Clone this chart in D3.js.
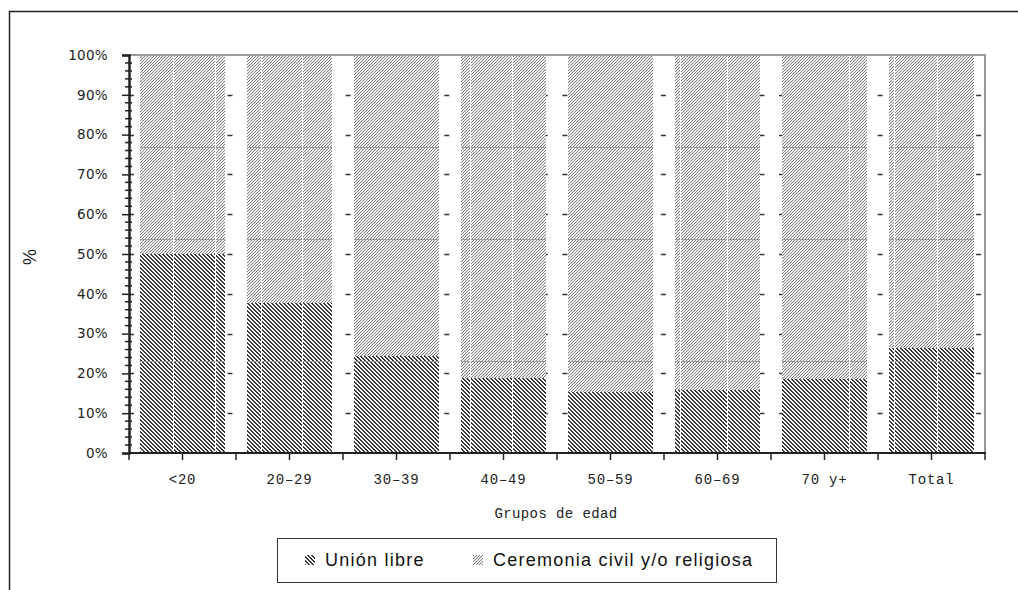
<!DOCTYPE html>
<html><head><meta charset="utf-8">
<script src="https://cdn.jsdelivr.net/npm/d3@7"></script>
<style>body{margin:0;background:#fff}</style>
</head><body>
<script>
const categories = ["<20","20–29","30–39","40–49","50–59","60–69","70 y+","Total"];
const unionLibre = [50.1, 37.6, 24.4, 18.9, 15.4, 15.9, 18.6, 26.5];
const ceremonia = unionLibre.map(v => 100 - v);
const seriesNames = ["Unión libre", "Ceremonia civil y/o religiosa"];
const yTicks = [0,10,20,30,40,50,60,70,80,90,100];
// rendering artifacts of the original hatch fills (faint lines across the bars)
const artifactLevels = [23, 53.7, 76.9];
const artifactCols = [173, 215, 261, 302, 470, 512, 680, 727, 849, 894, 937];

const W = 1018, H = 590;
const svg = d3.select("body").append("svg").attr("width", W).attr("height", H);
const defs = svg.append("defs");

// patterns
const p1 = defs.append("pattern").attr("id","hatchA").attr("patternUnits","userSpaceOnUse")
  .attr("width",4).attr("height",4);
p1.append("rect").attr("width",4).attr("height",4).attr("fill","#fff");
for (let r = 0; r < 4; r++) {
  p1.append("rect").attr("x", r).attr("y", r).attr("width",2).attr("height",1).attr("fill","#383838");
  if (r === 3) p1.append("rect").attr("x",0).attr("y",3).attr("width",1).attr("height",1).attr("fill","#383838");
}
const p2 = defs.append("pattern").attr("id","hatchB").attr("patternUnits","userSpaceOnUse")
  .attr("width",3).attr("height",3);
p2.append("rect").attr("width",3).attr("height",3).attr("fill","#f0f0f0");
[[2,0],[1,1],[0,2]].forEach(([x,y]) => p2.append("rect").attr("x",x).attr("y",y).attr("width",1).attr("height",1).attr("fill","#808080"));

// outer frame
svg.append("rect").attr("x",9.5).attr("y",11.5).attr("width",1020).attr("height",600)
  .attr("fill","none").attr("stroke","#222").attr("stroke-width",1.5);

const x = d3.scaleBand().domain(categories).range([129,985]).paddingInner(0.21).paddingOuter(0.105);
const y = d3.scaleLinear().domain([0,100]).range([453,55]);

// dashed gridlines
svg.append("g").selectAll("line").data(yTicks.filter(t => t > 0 && t < 100)).join("line")
  .attr("x1",129).attr("x2",985).attr("y1",d=>Math.round(y(d))+0.5).attr("y2",d=>Math.round(y(d))+0.5)
  .attr("stroke","#333").attr("stroke-width",1.5).attr("stroke-dasharray","5,14.7");

// bars
const g = svg.append("g").attr("shape-rendering","crispEdges");
g.selectAll(".a").data(categories).join("rect")
  .attr("x", d => x(d)).attr("width", x.bandwidth())
  .attr("y", (d,i) => y(unionLibre[i])).attr("height", (d,i) => y(0) - y(unionLibre[i]))
  .attr("fill","url(#hatchA)");
g.selectAll(".b").data(categories).join("rect")
  .attr("x", d => x(d)).attr("width", x.bandwidth())
  .attr("y", (d,i) => y(unionLibre[i] + ceremonia[i])).attr("height", (d,i) => y(unionLibre[i]) - y(unionLibre[i] + ceremonia[i]))
  .attr("fill","url(#hatchB)");

// artifacts inside bars
categories.forEach(c => {
  const x0 = x(c), x1 = x(c) + x.bandwidth();
  artifactLevels.forEach(l => {
    g.append("line").attr("x1",x0).attr("x2",x1).attr("y1",Math.round(y(l))+0.5).attr("y2",Math.round(y(l))+0.5)
      .attr("stroke","#9a9a9a").attr("stroke-width",1);
  });
  artifactCols.filter(v => v > x0 + 1 && v < x1 - 1).forEach(v => {
    g.append("line").attr("x1",v+0.5).attr("x2",v+0.5).attr("y1",y(100)).attr("y2",y(0))
      .attr("stroke","#fff").attr("stroke-width",1.5);
  });
});

// plot frame top/right gray
svg.append("line").attr("x1",129).attr("x2",986).attr("y1",55).attr("y2",55).attr("stroke","#999").attr("stroke-width",2);
svg.append("line").attr("x1",985).attr("x2",985).attr("y1",55).attr("y2",453).attr("stroke","#999").attr("stroke-width",2);

// y axis
const yAxis = d3.axisLeft(y).tickValues(yTicks).tickFormat(d => d + "%").tickSize(7).tickPadding(14);
const ya = svg.append("g").attr("transform","translate(129,0)").call(yAxis);
ya.select(".domain").attr("stroke","#222").attr("stroke-width",2.5);
ya.selectAll(".tick line").attr("stroke","#222").attr("stroke-width",1.5).attr("x2",-7).attr("x1",2);
ya.selectAll(".tick text").attr("font-family","DejaVu Sans, sans-serif").attr("font-size",13.5).attr("fill","#222").attr("letter-spacing","0.3px");
const minor = d3.range(0,101,2).filter(v => v % 10 !== 0);
svg.append("g").selectAll("line").data(minor).join("line")
  .attr("x1",125).attr("x2",132).attr("y1",d=>y(d)).attr("y2",d=>y(d)).attr("stroke","#222").attr("stroke-width",1.5);

// x axis
const xa = svg.append("g").attr("transform","translate(0,453)");
xa.append("line").attr("x1",128).attr("x2",986).attr("y1",0).attr("y2",0).attr("stroke","#222").attr("stroke-width",2);
const tickX = [];
categories.forEach(c => { tickX.push(x(c) - x.step()*x.paddingOuter()); tickX.push(x(c) + x.bandwidth()/2); });
tickX.push(985);
xa.selectAll(".t").data(tickX).join("line").attr("x1",d=>d).attr("x2",d=>d).attr("y1",0).attr("y2",7)
  .attr("stroke","#222").attr("stroke-width",1.5);
xa.selectAll("text").data(categories).join("text")
  .attr("x", d => x(d) + x.bandwidth()/2).attr("y", 31).attr("text-anchor","middle")
  .attr("font-family","Liberation Mono, monospace").attr("font-size",14).attr("fill","#222").attr("letter-spacing","0.8px")
  .text(d => d);

// axis titles
svg.append("text").attr("x",556).attr("y",518).attr("text-anchor","middle")
  .attr("font-family","Liberation Mono, monospace").attr("font-size",14).attr("fill","#222").attr("letter-spacing","0.4px")
  .text("Grupos de edad");
svg.append("text").attr("transform","translate(36,257) rotate(-90)").attr("text-anchor","middle")
  .attr("font-family","Liberation Sans, Arial, sans-serif").attr("font-size",18).attr("fill","#222").text("%");

// legend
const lg = svg.append("g");
lg.append("rect").attr("x",277.5).attr("y",538.5).attr("width",499).attr("height",44)
  .attr("fill","#fff").attr("stroke","#333").attr("stroke-width",1);
const legX = [305, 473];
const fills = ["url(#hatchA)","url(#hatchB)"];
seriesNames.forEach((s,i) => {
  lg.append("rect").attr("x",legX[i]).attr("y",555).attr("width",10).attr("height",10).attr("fill",fills[i]).attr("shape-rendering","crispEdges");
  lg.append("text").attr("x",legX[i]+20).attr("y",566).attr("font-family","Liberation Sans, Arial, sans-serif")
    .attr("font-size",18).attr("letter-spacing","1.25px").attr("fill","#111").text(s);
});
</script>
</body></html>
